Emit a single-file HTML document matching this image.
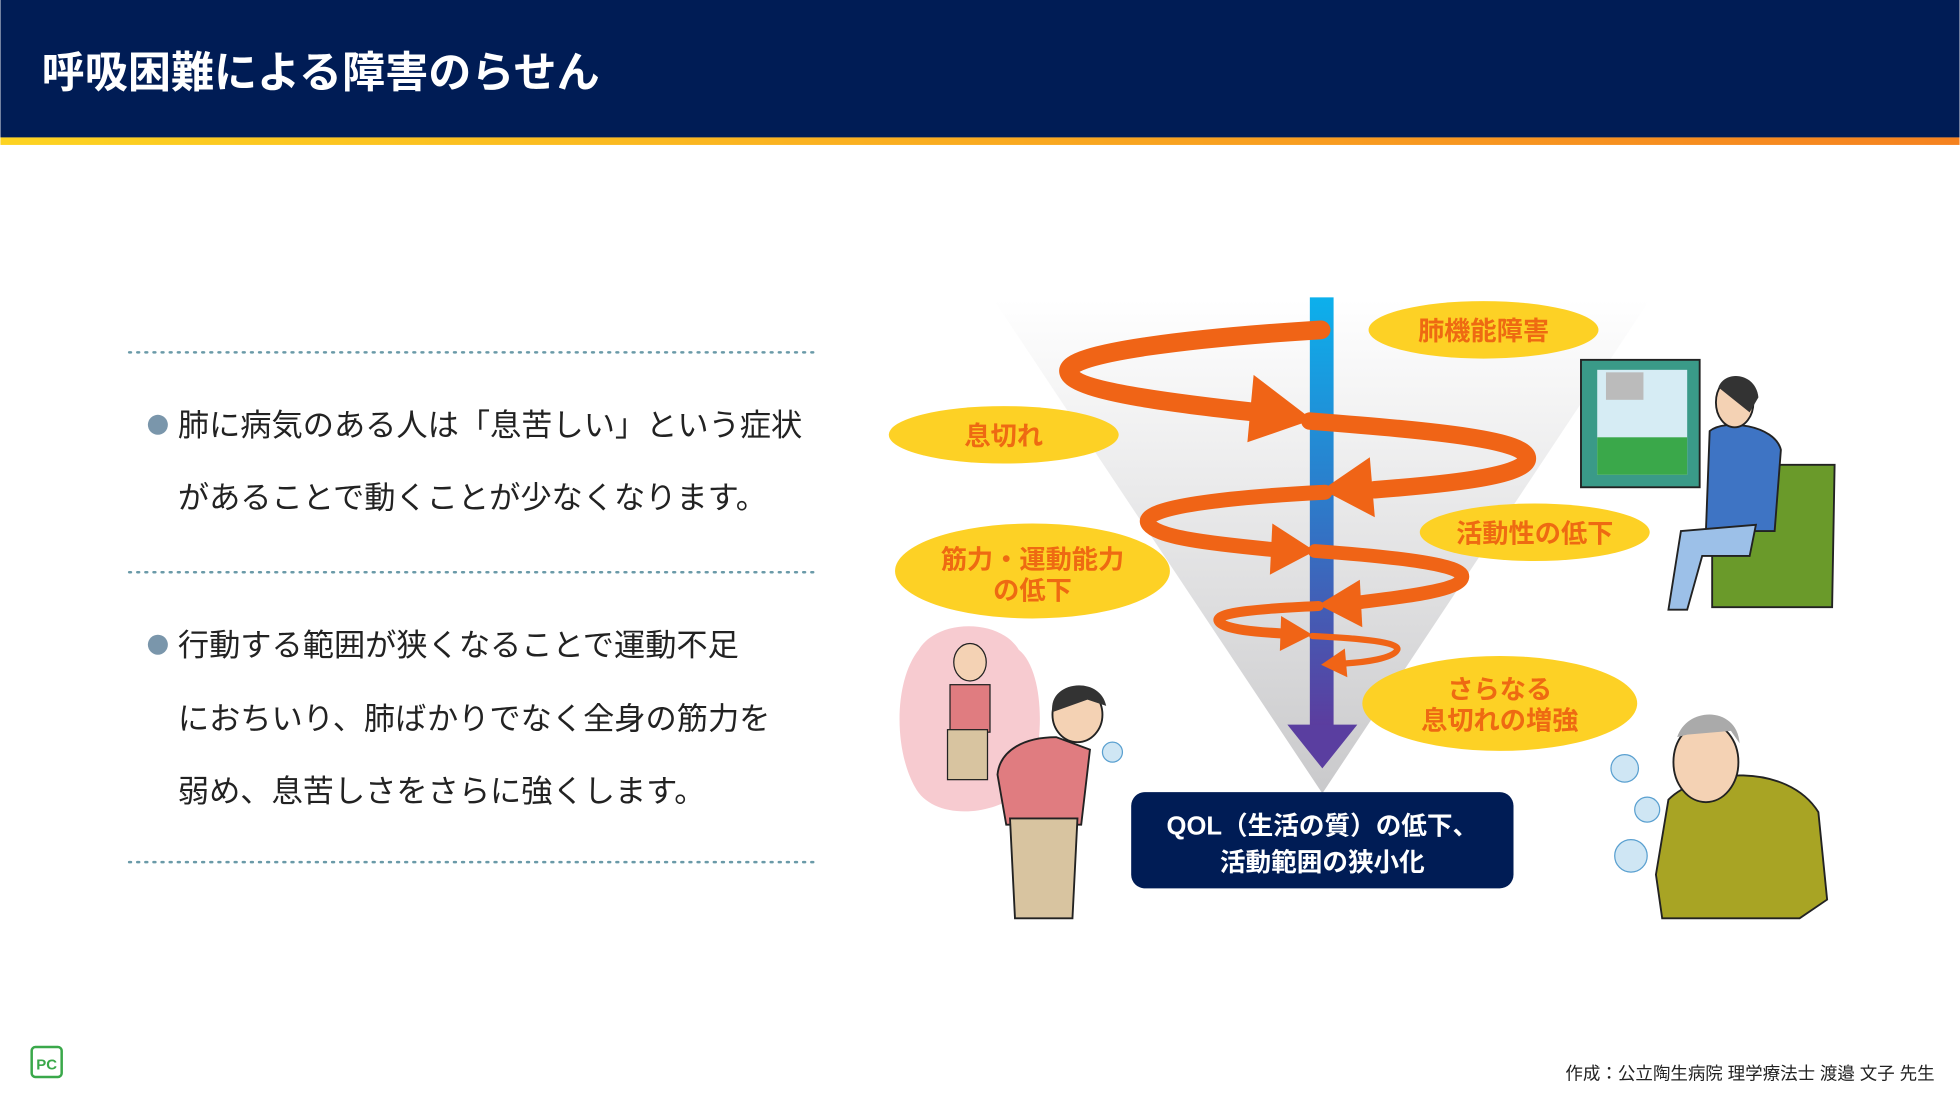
<!DOCTYPE html>
<html><head><meta charset="utf-8"><style>
html,body{margin:0;padding:0;background:#fff;}
svg{display:block;}
text{font-family:"Liberation Sans","Noto Sans CJK JP",sans-serif;}
</style></head><body>
<svg width="1960" height="1102" viewBox="0 0 1568 882" xmlns="http://www.w3.org/2000/svg">
<defs>
<linearGradient id="bar" x1="0" x2="1"><stop offset="0" stop-color="#fdd321"/><stop offset="1" stop-color="#f5821f"/></linearGradient>
<linearGradient id="fun" x1="0" y1="0" x2="0" y2="1"><stop offset="0" stop-color="#ffffff"/><stop offset="1" stop-color="#c9c9cb"/></linearGradient>
<linearGradient id="blue" x1="0" y1="0" x2="0" y2="1"><stop offset="0" stop-color="#0cb0ec"/><stop offset="0.5" stop-color="#2f78c8"/><stop offset="1" stop-color="#5c3c9e"/></linearGradient>
</defs>
<rect x="0" y="0" width="1568" height="110" fill="#001c55"/>
<rect x="0" y="110" width="1568" height="6" fill="url(#bar)"/>
<text x="33" y="70" font-size="34.5" font-weight="bold" fill="#fff">呼吸困難による障害のらせん</text>

<g stroke="#6a9aa8" stroke-width="2" stroke-dasharray="1.5 5" stroke-linecap="round">
<line x1="103" y1="282" x2="655" y2="282"/>
<line x1="103" y1="458" x2="655" y2="458"/>
<line x1="103" y1="690" x2="655" y2="690"/>
</g>
<g font-size="25" fill="#222">
<circle cx="126" cy="340" r="8" fill="#7a96ab"/>
<text x="142" y="349">肺に病気のある人は「息苦しい」という症状</text>
<text x="142" y="407">があることで動くことが少なくなります。</text>
<circle cx="126" cy="516" r="8" fill="#7a96ab"/>
<text x="142" y="525">行動する範囲が狭くなることで運動不足</text>
<text x="142" y="584">におちいり、肺ばかりでなく全身の筋力を</text>
<text x="142" y="642">弱め、息苦しさをさらに強くします。</text>
</g>

<polygon points="795,240 1320,240 1058,635" fill="url(#fun)"/>
<rect x="1048" y="238" width="19" height="345" fill="url(#blue)"/>
<polygon points="1030,580 1086,580 1058,615" fill="#5a3ea0"/>

<g fill="none" stroke="#f06416" stroke-linecap="round">
<path d="M1057,264 C960,270 850,282 855,298 C860,314 950,324 1005,330" stroke-width="15"/>
<path d="M1048,337 C1150,345 1225,352 1222,368 C1218,382 1150,388 1100,392" stroke-width="14"/>
<path d="M1060,394 C980,398 915,406 918,418 C922,431 980,436 1020,440" stroke-width="12"/>
<path d="M1052,441 C1120,446 1172,452 1170,462 C1168,473 1120,478 1088,482" stroke-width="11"/>
<path d="M1055,485 C1010,487 972,490 975,497 C978,504 1008,506 1026,507" stroke-width="8"/>
<path d="M1050,509 C1090,511 1120,514 1118,520 C1115,527 1092,530 1076,531" stroke-width="5"/>
</g>
<g fill="#f06416">
<polygon points="1050,336 1003,300 998,354"/>
<polygon points="1058,392 1096,366 1100,414"/>
<polygon points="1052,441 1018,419 1016,460"/>
<polygon points="1055,484 1088,464 1090,502"/>
<polygon points="1050,508 1025,493 1024,521"/>
<polygon points="1057,532 1076,519 1078,542"/>
</g>

<g fill="#fdd125">
<ellipse cx="1187" cy="264" rx="92" ry="23"/>
<ellipse cx="803" cy="348" rx="92" ry="23"/>
<ellipse cx="826" cy="457" rx="110" ry="38"/>
<ellipse cx="1228" cy="426" rx="92" ry="23"/>
<ellipse cx="1200" cy="563" rx="110" ry="38"/>
</g>
<g font-size="21" font-weight="bold" fill="#ee6a12" text-anchor="middle">
<text x="1187" y="272">肺機能障害</text>
<text x="803" y="356">息切れ</text>
<text x="826" y="455">筋力・運動能力</text>
<text x="826" y="480">の低下</text>
<text x="1228" y="434">活動性の低下</text>
<text x="1200" y="559">さらなる</text>
<text x="1200" y="584">息切れの増強</text>
</g>

<rect x="905" y="634" width="306" height="77" rx="11" fill="#001c55"/>
<g font-size="20.5" font-weight="bold" fill="#fff" text-anchor="middle">
<text x="1058" y="668">QOL（生活の質）の低下、</text>
<text x="1058" y="697">活動範囲の狭小化</text>
</g>

<rect x="1265" y="288" width="95" height="102" fill="#3a9a88" stroke="#222" stroke-width="1.5"/>
<rect x="1278" y="296" width="72" height="84" fill="#d6ecf4"/>
<rect x="1278" y="350" width="72" height="30" fill="#3aa84a"/>
<rect x="1285" y="298" width="30" height="22" fill="#bbb"/>
<polygon points="1370,372 1468,372 1466,486 1370,486" fill="#6a9a2a" stroke="#222" stroke-width="1.5"/>
<path d="M1368,345 C1380,335 1420,340 1425,360 L1420,425 L1365,425 Z" fill="#3e74c4" stroke="#222" stroke-width="1.5"/>
<path d="M1345,425 L1405,420 L1400,445 L1362,445 L1350,488 L1335,488 Z" fill="#9cc0e8" stroke="#222" stroke-width="1.5"/>
<ellipse cx="1388" cy="322" rx="15" ry="20" fill="#f4d2b4" stroke="#222" stroke-width="1.5"/>
<path d="M1375,310 C1380,296 1405,298 1407,318 L1400,330 Z" fill="#333"/>

<path d="M735,520 C750,495 800,495 815,520 C840,540 835,620 815,635 C790,655 745,655 732,630 C715,600 715,545 735,520 Z" fill="#f7cbd0"/>
<ellipse cx="776" cy="530" rx="13" ry="15" fill="#f4d2b4" stroke="#222"/>
<rect x="760" y="548" width="32" height="38" fill="#e07c80" stroke="#222"/>
<rect x="758" y="584" width="32" height="40" fill="#d8c4a0" stroke="#222"/>
<ellipse cx="862" cy="572" rx="20" ry="22" fill="#f4d2b4" stroke="#222" stroke-width="1.5"/>
<path d="M842,570 C838,545 880,540 885,565 L870,560 Z" fill="#333"/>
<path d="M845,590 C820,590 800,600 798,620 L805,660 L865,660 L872,600 Z" fill="#e07c80" stroke="#222" stroke-width="1.5"/>
<path d="M808,655 L862,655 L858,735 L812,735 Z" fill="#d8c4a0" stroke="#222" stroke-width="1.5"/>
<circle cx="890" cy="602" r="8" fill="#cfe6f4" stroke="#5aa0d0"/>

<circle cx="1300" cy="615" r="11" fill="#cfe6f4" stroke="#5aa0d0"/>
<circle cx="1318" cy="648" r="10" fill="#cfe6f4" stroke="#5aa0d0"/>
<circle cx="1305" cy="685" r="13" fill="#cfe6f4" stroke="#5aa0d0"/>
<path d="M1335,640 C1360,615 1430,610 1455,650 L1462,720 L1440,735 L1330,735 L1325,700 Z" fill="#a8a424" stroke="#222" stroke-width="1.5"/>
<ellipse cx="1365" cy="610" rx="26" ry="32" fill="#f4d2b4" stroke="#222" stroke-width="1.5"/>
<path d="M1342,590 C1350,565 1390,565 1392,595 L1385,585 L1350,588 Z" fill="#aaa"/>

<rect x="25" y="838" width="24" height="24" rx="3" fill="#fff" stroke="#3aa84a" stroke-width="2"/>
<text x="37" y="856" font-size="12" font-weight="bold" fill="#3aa84a" text-anchor="middle">PC</text>
<text x="1548" y="864" font-size="14" fill="#222" text-anchor="end">作成：公立陶生病院 理学療法士 渡邉 文子 先生</text>
</svg>
</body></html>
